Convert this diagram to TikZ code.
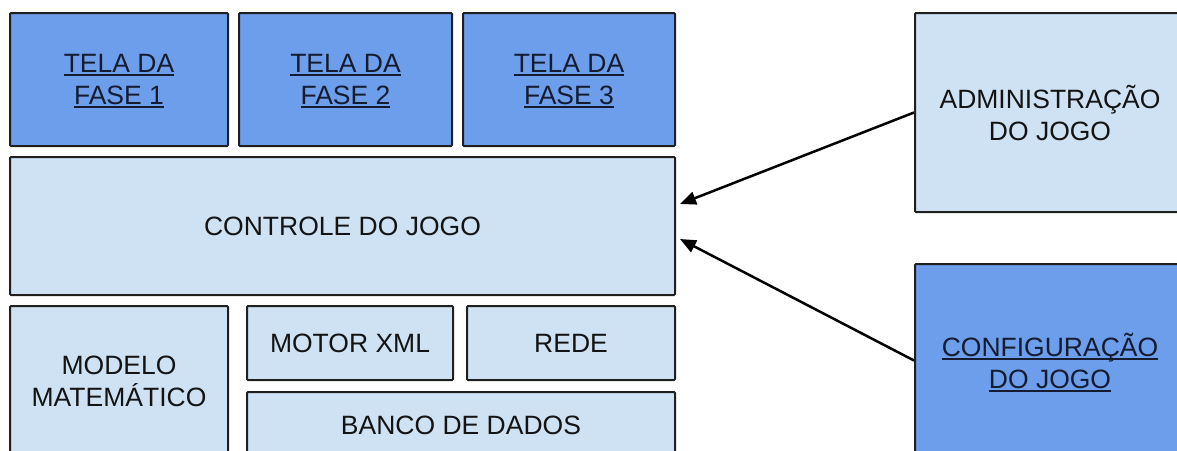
\documentclass[tikz,border=0pt]{standalone}
\usepackage{fontspec}
\setmainfont{Liberation Sans}
\usetikzlibrary{arrows.meta}
\definecolor{darkfill}{HTML}{6D9EEB}
\definecolor{lightfill}{HTML}{CFE2F3}
\definecolor{edge}{HTML}{1F1F1F}
\definecolor{txt}{HTML}{141414}
\definecolor{ultxt}{HTML}{151C30}
\newcommand\ulx[1]{\setbox0\hbox{#1}\rlap{\smash{\rule[-3.6pt]{\wd0}{1.7pt}}}\box0}
\tikzset{
  blk/.style={draw=edge, line width=2pt, rectangle, rounded corners=1pt,
    align=center, text=txt, inner sep=0pt,
    font=\fontsize{26.5pt}{32pt}\selectfont},
  darkblk/.style={blk, fill=darkfill, text=ultxt},
  lightblk/.style={blk, fill=lightfill},
  arr/.style={draw=black, line width=2.5pt, -{Triangle[length=16pt,width=13pt]}}
}
\begin{document}
\begin{tikzpicture}[x=1pt,y=-1pt]
\useasboundingbox (0,0) rectangle (1177,450);
\begin{scope}
\clip (0,0) rectangle (1177,450);
% top row
\node[darkblk, minimum width=218pt, minimum height=133pt] (t1) at (119,79.5) {\ulx{TELA DA}\\\ulx{FASE 1}};
\node[darkblk, minimum width=213pt, minimum height=133pt] (t2) at (345.5,79.5) {\ulx{TELA DA}\\\ulx{FASE 2}};
\node[darkblk, minimum width=212pt, minimum height=133pt] (t3) at (569,79.5) {\ulx{TELA DA}\\\ulx{FASE 3}};
% controle
\node[lightblk, minimum width=665pt, minimum height=138pt] (ctrl) at (342.5,226) {CONTROLE DO JOGO};
% bottom
\node[lightblk, minimum width=218pt, minimum height=151pt] (mod) at (119,381.5) {MODELO\\MATEMÁTICO};
\node[lightblk, minimum width=206pt, minimum height=74pt] (xml) at (350,343) {MOTOR XML};
\node[lightblk, minimum width=208pt, minimum height=74pt] (rede) at (571,343) {REDE};
\node[lightblk, minimum width=428pt, minimum height=66pt] (bd) at (461,425) {BANCO DE DADOS};
% right side
\node[lightblk, minimum width=270pt, minimum height=199pt] (adm) at (1050,112.5) {ADMINISTRAÇÃO\\DO JOGO};
\node[darkblk, minimum width=270pt, minimum height=193pt] (cfg) at (1050,360.5) {\ulx{CONFIGURAÇÃO}\\\ulx{DO JOGO}};
\end{scope}
\coordinate (tipA) at (680,204);
\coordinate (tipB) at (680,239);
\draw[arr] (adm.west) -- (tipA);
\draw[arr] (cfg.west) -- (tipB);
\end{tikzpicture}
\end{document}
